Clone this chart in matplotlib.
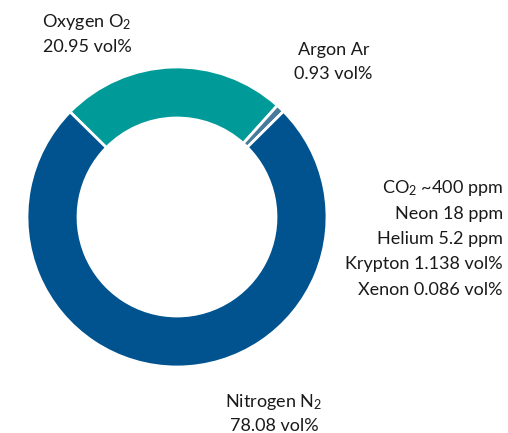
import matplotlib
matplotlib.use("Agg")
import matplotlib.pyplot as plt

# wedge sizes as drawn (clockwise from upper left)
gases = ["Oxygen", "Argon", "Nitrogen"]
shares = [24.3, 0.9, 74.8]
colors = ["#009b98", "#487a9b", "#00538f"]

trace_labels = ["CO$_2$ ~400 ppm", "Neon 18 ppm", "Helium 5.2 ppm",
                "Krypton 1.138 vol%", "Xenon 0.086 vol%"]

plt.rcParams["font.family"] = ["Lato", "DejaVu Sans"]
plt.rcParams["mathtext.fontset"] = "custom"
plt.rcParams["mathtext.rm"] = "Lato"
plt.rcParams["mathtext.default"] = "regular"

W, H = 508, 433
fig = plt.figure(figsize=(W / 100, H / 100), dpi=100)

# donut centre (177, 217) px, outer radius 150 px
cx, cy, r = 177, 217, 150
ax = fig.add_axes([(cx - r) / W, (H - cy - r) / H, 2 * r / W, 2 * r / H])
ax.pie(shares, colors=colors, startangle=135.5, counterclock=False,
       radius=1, wedgeprops=dict(width=0.34, edgecolor="white", linewidth=2))
ax.set_xlim(-1, 1)
ax.set_ylim(-1, 1)
ax.set_aspect("auto")
ax.axis("off")


def put(x, y, s, ha="center"):
    fig.text(x / W, 1 - y / H, s, ha=ha, va="center", fontsize=13, color="#1a1a1a")


put(87, 22, "Oxygen O$_2$")
put(87, 47, "20.95 vol%")
put(334, 50, "Argon Ar")
put(333, 74, "0.93 vol%")
put(274, 402, "Nitrogen N$_2$")
put(274, 426, "78.08 vol%")

for i, lab in enumerate(trace_labels):
    put(503, 188 + i * 25.5, lab, ha="right")

fig.savefig("out.png", dpi=100)
